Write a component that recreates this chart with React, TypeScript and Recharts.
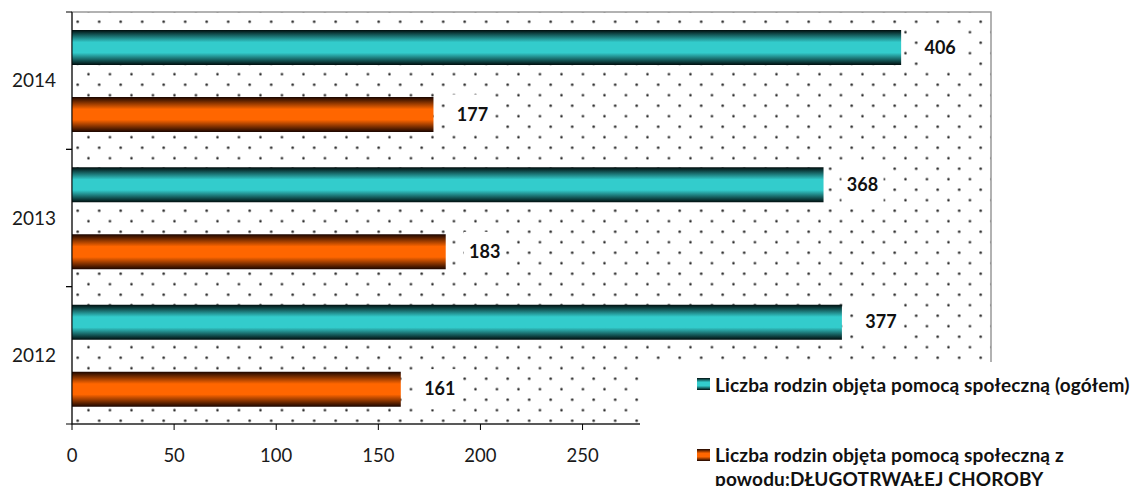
import React from 'react';
import { BarChart, Bar, XAxis, YAxis, CartesianGrid, ReferenceArea, LabelList } from 'recharts';

const years = ['2014', '2013', '2012'];
const totalFamilies = [406, 368, 377];
const illnessFamilies = [177, 183, 161];
const xTicks = [0, 50, 100, 150, 200, 250, 300, 350, 400, 450];
const visibleTickMax = 250;
const seriesNames = [
  'Liczba rodzin objęta pomocą społeczną (ogółem)',
  'Liczba rodzin objęta pomocą społeczną z powodu:DŁUGOTRWAŁEJ CHOROBY',
];

const data = years.map((year, i) => ({
  year,
  total: totalFamilies[i],
  illness: illnessFamilies[i],
}));

const FONT = 'Lato, "Open Sans", sans-serif';
const W = 1134;
const H = 486;
const X_AXIS_H = 62;
const Y_AXIS_W = 72;
const MARGIN = { top: 12, right: 143, bottom: 0, left: 0 };
const BAND = (H - MARGIN.top - X_AXIS_H) / years.length;

const TEAL_CSS = 'linear-gradient(to bottom, #000d0d 0%, #33cccc 35%, #33cccc 65%, #000d0d 100%)';
const ORANGE_CSS = 'linear-gradient(to bottom, #1a0500 0%, #ff6600 35%, #ff6600 65%, #1a0500 100%)';

const YTick = (props: any) => {
  const { x, y, payload } = props;
  const h = BAND / 2;
  return (
    <g>
      <line x1={x - 6} x2={x} y1={y - h} y2={y - h} stroke="#000" strokeWidth={1} />
      <line x1={x - 6} x2={x} y1={y + h} y2={y + h} stroke="#000" strokeWidth={1} />
      <text x={x - 16} y={y} dy="0.35em" textAnchor="end" fill="#1a1a1a" fontSize={19} fontFamily={FONT}>
        {payload.value}
      </text>
    </g>
  );
};

const ValueLabel = (props: any) => {
  const { x, y, width, height, value } = props;
  const cx = Number(x) + Number(width) + 39;
  const cy = Number(y) + Number(height) / 2;
  return (
    <g>
      <rect x={cx - 21} y={cy - 20} width={42} height={40} fill="#fff" />
      <text x={cx} y={cy} dy="0.35em" textAnchor="middle" fill="#111" fontSize={18} fontWeight="bold" fontFamily={FONT}>
        {value}
      </text>
    </g>
  );
};

const LegendBox = () => (
  <div style={{ position: 'absolute', left: 640, top: 362, width: 494, height: 124, background: '#fff', fontFamily: FONT, fontWeight: 'bold', fontSize: 19, letterSpacing: 0.15, color: '#111', zIndex: 2 }}>
    <div style={{ position: 'absolute', left: 57, top: 16, width: 13, height: 12, background: TEAL_CSS }} />
    <div style={{ position: 'absolute', left: 75, top: 11, lineHeight: '24px', whiteSpace: 'nowrap' }}>{seriesNames[0]}</div>
    <div style={{ position: 'absolute', left: 57, top: 87, width: 13, height: 12, background: ORANGE_CSS }} />
    <div style={{ position: 'absolute', left: 75, top: 81, lineHeight: '24px', width: 400 }}>{seriesNames[1]}</div>
  </div>
);

export default function App() {
  return (
    <div style={{ position: 'absolute', left: 0, top: 0, width: W, height: H, background: '#fff', overflow: 'hidden' }}>
      <BarChart width={W} height={H} data={data} layout="vertical" margin={MARGIN} barGap={32}>
        <defs>
          <pattern id="dots" patternUnits="userSpaceOnUse" x={72.3} y={16.45} width={21.5} height={21}>
            <circle cx={5.4} cy={5.25} r={1.25} fill="#222" />
            <circle cx={16.15} cy={15.75} r={1.25} fill="#222" />
          </pattern>
          <linearGradient id="tealGrad" x1="0" y1="0" x2="0" y2="1">
            <stop offset="0%" stopColor="#000d0d" />
            <stop offset="35%" stopColor="#33cccc" />
            <stop offset="65%" stopColor="#33cccc" />
            <stop offset="100%" stopColor="#000d0d" />
          </linearGradient>
          <linearGradient id="orangeGrad" x1="0" y1="0" x2="0" y2="1">
            <stop offset="0%" stopColor="#1a0500" />
            <stop offset="35%" stopColor="#ff6600" />
            <stop offset="65%" stopColor="#ff6600" />
            <stop offset="100%" stopColor="#1a0500" />
          </linearGradient>
        </defs>
        <CartesianGrid horizontal={false} vertical={false} fill="url(#dots)" fillOpacity={1} />
        <ReferenceArea x1={0} x2={450} fill="none" stroke="#999" strokeWidth={1.5} ifOverflow="visible" />
        <XAxis
          type="number"
          domain={[0, 450]}
          ticks={xTicks}
          interval={0}
          tickSize={6}
          tickMargin={19}
          axisLine={{ stroke: '#000' }}
          tickLine={{ stroke: '#000' }}
          tick={{ fill: '#1a1a1a', fontSize: 18.5, fontFamily: FONT }}
          tickFormatter={(v: number) => (v > visibleTickMax ? '' : String(v))}
          height={X_AXIS_H}
        />
        <YAxis
          type="category"
          dataKey="year"
          width={Y_AXIS_W}
          tickSize={0}
          tickMargin={0}
          tickLine={false}
          axisLine={{ stroke: '#000' }}
          tick={<YTick />}
          interval={0}
        />
        <Bar dataKey="total" name={seriesNames[0]} fill="url(#tealGrad)" barSize={35} isAnimationActive={false}>
          <LabelList dataKey="total" content={<ValueLabel />} />
        </Bar>
        <Bar dataKey="illness" name={seriesNames[1]} fill="url(#orangeGrad)" barSize={35} isAnimationActive={false}>
          <LabelList dataKey="illness" content={<ValueLabel />} />
        </Bar>
      </BarChart>
      <LegendBox />
    </div>
  );
}
